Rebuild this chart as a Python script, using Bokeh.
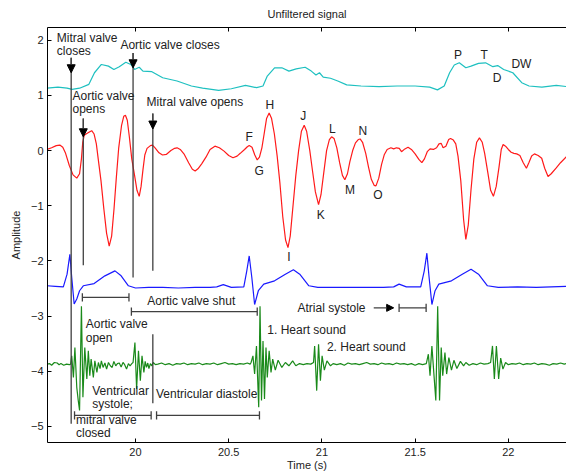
from bokeh.plotting import figure
from bokeh.models import Range1d, LinearAxis, FixedTicker, Arrow, NormalHead
from bokeh.core.properties import value
from bokeh.embed import file_html
from bokeh.resources import INLINE

FONT = "Liberation Sans"

# ---------------- data ----------------
cyan_t = [19.526, 19.584, 19.633, 19.66, 19.70, 19.75, 19.78, 19.817, 19.855, 19.884, 19.913, 19.948,
          19.975, 19.995, 20.02, 20.04, 20.088, 20.146, 20.223, 20.30, 20.36, 20.446, 20.514, 20.59,
          20.65, 20.684, 20.707, 20.746, 20.785, 20.823, 20.862, 20.91, 20.943, 20.968, 20.987, 21.007,
          21.046, 21.085, 21.133, 21.21, 21.307, 21.404, 21.50, 21.578, 21.62, 21.656, 21.685, 21.71,
          21.737, 21.772, 21.80, 21.84, 21.878, 21.917, 21.943, 21.975, 22.024, 22.072, 22.111, 22.18,
          22.257, 22.312]
cyan_v = [1.13, 1.15, 1.13, 1.11, 1.13, 1.20, 1.41, 1.56, 1.53, 1.47, 1.52, 1.60,
          1.56, 1.47, 1.51, 1.44, 1.43, 1.32, 1.26, 1.17, 1.13, 1.09, 1.12, 1.18,
          1.14, 1.17, 1.35, 1.50, 1.50, 1.44, 1.48, 1.51, 1.44, 1.37, 1.41, 1.33,
          1.31, 1.26, 1.19, 1.17, 1.16, 1.17, 1.17, 1.15, 1.10, 1.17, 1.41, 1.55,
          1.59, 1.50, 1.53, 1.58, 1.59, 1.52, 1.54, 1.47, 1.41, 1.23, 1.17, 1.15,
          1.18, 1.16]

red_t = [19.526, 19.55, 19.575, 19.594, 19.61, 19.625, 19.645, 19.665, 19.685, 19.70, 19.71, 19.717,
         19.725, 19.735, 19.75, 19.765, 19.778, 19.79, 19.80, 19.815, 19.83, 19.845, 19.859, 19.872,
         19.885, 19.897, 19.91, 19.925, 19.937, 19.946, 19.956, 19.967, 19.98, 19.995, 20.008, 20.02,
         20.03, 20.04, 20.05, 20.062, 20.08, 20.091, 20.105, 20.126, 20.145, 20.165, 20.19, 20.21,
         20.223, 20.24, 20.262, 20.285, 20.305, 20.32, 20.335, 20.355, 20.378, 20.40, 20.426, 20.45,
         20.475, 20.50, 20.523, 20.545, 20.562, 20.585, 20.60, 20.61, 20.625, 20.64, 20.653, 20.665,
         20.678, 20.69, 20.703, 20.717, 20.73, 20.745, 20.76, 20.775, 20.79, 20.805, 20.818, 20.83,
         20.845, 20.86, 20.875, 20.89, 20.905, 20.918, 20.935, 20.95, 20.965, 20.982, 20.995, 21.01,
         21.025, 21.04, 21.052, 21.065, 21.08, 21.095, 21.11, 21.123, 21.137, 21.15, 21.165, 21.18,
         21.195, 21.205, 21.218, 21.235, 21.25, 21.265, 21.28, 21.29, 21.305, 21.32, 21.335, 21.35,
         21.37, 21.385, 21.40, 21.415, 21.427, 21.445, 21.462, 21.48, 21.50, 21.52, 21.536, 21.55,
         21.565, 21.58, 21.598, 21.615, 21.628, 21.64, 21.65, 21.665, 21.68, 21.69, 21.705, 21.718,
         21.73, 21.745, 21.76, 21.772, 21.785, 21.80, 21.815, 21.83, 21.845, 21.86, 21.873, 21.89,
         21.905, 21.92, 21.935, 21.95, 21.962, 21.972, 21.985, 22.0, 22.015, 22.03, 22.045, 22.062,
         22.08, 22.097, 22.11, 22.125, 22.14, 22.16, 22.179, 22.195, 22.213, 22.23, 22.256, 22.28,
         22.312]
red_v = [0.02, 0.05, 0.09, 0.10, 0.06, -0.05, -0.27, -0.44, -0.50, -0.42, -0.15, 0.15,
         0.28, 0.30, 0.33, 0.36, 0.30, 0.12, -0.15, -0.55, -1.05, -1.50, -1.73, -1.55,
         -1.05, -0.50, 0.05, 0.45, 0.62, 0.64, 0.55, 0.25, -0.15, -0.45, -0.72, -0.83,
         -0.65, -0.35, -0.08, 0.04, 0.09, 0.10, 0.05, -0.04, -0.08, -0.07, 0.00, 0.04,
         0.05, 0.02, -0.07, -0.22, -0.34, -0.37, -0.33, -0.24, -0.12, 0.02, 0.08, 0.05,
         -0.01, -0.09, -0.13, -0.10, -0.05, 0.02, 0.07, 0.09, 0.06, -0.08, -0.17, -0.12,
         0.05, 0.30, 0.58, 0.68, 0.58, 0.30, -0.10, -0.60, -1.20, -1.62, -1.76, -1.55,
         -1.00, -0.45, 0.00, 0.35, 0.46, 0.35, 0.00, -0.38, -0.75, -0.98, -0.80, -0.40,
         0.00, 0.20, 0.25, 0.22, 0.05, -0.22, -0.45, -0.53, -0.42, -0.20, 0.00, 0.14,
         0.20, 0.21, 0.15, -0.05, -0.30, -0.52, -0.63, -0.64, -0.50, -0.25, -0.07, 0.02,
         0.05, 0.03, 0.05, 0.04, -0.02, 0.03, 0.06, 0.02, -0.06, -0.16, -0.22, -0.15,
         -0.02, 0.03, 0.02, 0.05, 0.12, 0.13, 0.05, 0.08, 0.20, 0.22, 0.19, 0.12,
         -0.10, -0.55, -1.25, -1.61, -1.35, -0.70, -0.15, 0.15, 0.23, 0.15, -0.05, -0.40,
         -0.72, -0.83, -0.65, -0.30, 0.02, 0.11, 0.08, 0.02, -0.03, -0.05, -0.06, -0.09,
         -0.22, -0.32, -0.22, -0.10, -0.06, -0.09, -0.14, -0.32, -0.47, -0.42, -0.32, -0.22,
         -0.11]

blue_t = [19.526, 19.57, 19.613, 19.633, 19.648, 19.658, 19.671, 19.685, 19.70, 19.72, 19.778, 19.836,
          19.89, 19.923, 19.962, 20.0, 20.07, 20.146, 20.23, 20.32, 20.40, 20.436, 20.471, 20.514,
          20.581, 20.597, 20.61, 20.624, 20.639, 20.659, 20.688, 20.746, 20.804, 20.847, 20.881, 20.93,
          20.978, 21.1, 21.211, 21.33, 21.385, 21.414, 21.453, 21.53, 21.549, 21.563, 21.575, 21.59,
          21.607, 21.627, 21.695, 21.753, 21.80, 21.84, 21.888, 21.946, 22.05, 22.15, 22.312]
blue_v = [-2.45, -2.46, -2.47, -2.24, -1.88, -2.30, -2.78, -2.69, -2.54, -2.45, -2.41, -2.27,
          -2.18, -2.27, -2.45, -2.49, -2.48, -2.48, -2.49, -2.48, -2.48, -2.47, -2.43, -2.48,
          -2.47, -2.18, -1.91, -2.30, -2.79, -2.54, -2.42, -2.36, -2.24, -2.16, -2.24, -2.45,
          -2.48, -2.48, -2.48, -2.48, -2.47, -2.42, -2.47, -2.47, -2.18, -1.86, -2.30, -2.79,
          -2.54, -2.42, -2.36, -2.24, -2.15, -2.24, -2.45, -2.48, -2.47, -2.48, -2.46]

green_t = [19.526, 19.54, 19.55, 19.565, 19.58, 19.59, 19.60, 19.615, 19.63, 19.645, 19.652, 19.658,
           19.667, 19.675, 19.685, 19.693, 19.700, 19.710, 19.718, 19.728, 19.739, 19.747, 19.755, 19.762,
           19.774, 19.782, 19.793, 19.801, 19.81, 19.817, 19.826, 19.836, 19.845, 19.855, 19.865, 19.875,
           19.884, 19.894, 19.903, 19.913, 19.923, 19.933, 19.942, 19.952, 19.962, 19.971, 19.98, 19.987,
           19.997, 20.006, 20.016, 20.026, 20.035, 20.045, 20.052, 20.059, 20.066, 20.072, 20.08, 20.088,
           20.095, 20.107, 20.12, 20.14, 20.16, 20.18, 20.20, 20.22, 20.24, 20.26, 20.28, 20.30,
           20.32, 20.34, 20.36, 20.38, 20.40, 20.42, 20.44, 20.46, 20.48, 20.50, 20.52, 20.54,
           20.56, 20.58, 20.60, 20.615, 20.62, 20.63, 20.639, 20.649, 20.655, 20.661, 20.668, 20.676,
           20.684, 20.692, 20.70, 20.707, 20.717, 20.727, 20.736, 20.75, 20.765, 20.785, 20.804, 20.823,
           20.843, 20.86, 20.88, 20.90, 20.92, 20.94, 20.955, 20.961, 20.972, 20.982, 20.992, 21.001,
           21.013, 21.027, 21.046, 21.06, 21.08, 21.10, 21.12, 21.14, 21.16, 21.18, 21.20, 21.22,
           21.24, 21.26, 21.28, 21.30, 21.32, 21.34, 21.36, 21.38, 21.40, 21.42, 21.44, 21.46,
           21.48, 21.50, 21.52, 21.54, 21.56, 21.571, 21.58, 21.59, 21.602, 21.611, 21.621, 21.631,
           21.64, 21.648, 21.66, 21.669, 21.681, 21.695, 21.708, 21.724, 21.743, 21.76, 21.772, 21.79,
           21.81, 21.83, 21.85, 21.87, 21.89, 21.905, 21.915, 21.925, 21.936, 21.948, 21.959, 21.971,
           21.985, 22.0, 22.02, 22.04, 22.06, 22.08, 22.10, 22.12, 22.14, 22.16, 22.18, 22.20,
           22.22, 22.24, 22.26, 22.28, 22.30, 22.312]
green_v = [-3.87, -3.86, -3.89, -3.84, -3.85, -3.88, -3.86, -3.89, -3.87, -3.88, -3.87, -3.72,
           -4.11, -3.57, -4.29, -4.53, -4.71, -2.82, -4.47, -3.57, -4.14, -3.63, -4.08, -3.78,
           -4.11, -3.81, -4.02, -3.84, -3.95, -3.81, -3.93, -3.85, -3.96, -3.84, -3.90, -3.93,
           -3.82, -3.90, -3.86, -3.85, -3.92, -3.84, -3.88, -3.96, -3.86, -3.90, -3.86, -3.84,
           -3.48, -4.32, -3.63, -4.17, -3.72, -4.02, -3.82, -3.93, -3.85, -3.95, -3.86, -3.90,
           -3.84, -3.88, -3.87, -3.85, -3.88, -3.86, -3.89, -3.86, -3.87, -3.85, -3.88, -3.86,
           -3.87, -3.85, -3.88, -3.86, -3.87, -3.85, -3.88, -3.86, -3.84, -3.87, -3.86, -3.88,
           -3.86, -3.87, -3.85, -3.87, -3.84, -3.72, -4.05, -3.54, -4.11, -4.65, -2.82, -4.53,
           -3.45, -4.50, -3.57, -4.11, -3.63, -4.02, -3.78, -3.98, -3.80, -3.93, -3.84, -3.90,
           -3.81, -3.90, -3.86, -3.88, -3.86, -3.87, -3.84, -3.54, -4.35, -3.51, -4.17, -3.72,
           -3.98, -3.81, -3.90, -3.86, -3.88, -3.86, -3.89, -3.85, -3.87, -3.86, -3.88, -3.86,
           -3.84, -3.87, -3.86, -3.88, -3.85, -3.87, -3.86, -3.88, -3.85, -3.87, -3.86, -3.88,
           -3.86, -3.89, -3.86, -3.88, -3.86, -3.69, -4.08, -3.54, -4.11, -4.53, -2.82, -4.53,
           -3.57, -4.08, -3.66, -4.05, -3.75, -3.98, -3.80, -3.95, -3.82, -3.90, -3.84, -3.89,
           -3.86, -3.88, -3.85, -3.87, -3.86, -3.84, -3.54, -4.14, -3.54, -4.14, -3.76, -3.96,
           -3.84, -3.88, -3.86, -3.87, -3.85, -3.88, -3.86, -3.87, -3.85, -3.88, -3.86, -3.87,
           -3.89, -3.86, -3.87, -3.85, -3.87, -3.86]

x_ticks = [20, 20.5, 21, 21.5, 22]
y_ticks = [-5, -4, -3, -2, -1, 0, 1, 2]

# annotation geometry (data units)
vline_x = [19.655, 19.72, 19.987, 20.093, 20.093]
vline_y0 = [1.68, 0.58, 1.77, 0.67, -3.33]
vline_y1 = [-4.95, -2.08, -2.30, -2.18, -4.58]
arrow_x = [19.655, 19.72, 19.987, 20.093]
arrow_y0 = [1.68, 0.58, 1.77, 0.67]
arrow_y1 = [1.41, 0.25, 1.50, 0.39]
bar_x0 = [19.715, 19.978, 21.414, 19.673, 20.113]
bar_x1 = [19.965, 20.653, 21.559, 20.084, 20.665]
bar_y = [-2.66, -2.92, -2.85, -4.80, -4.80]

lab_text = ["Mitral valve", "closes", "Aortic valve closes", "Aortic valve", "opens", "Mitral valve opens",
            "Aortic valve shut", "Aortic valve", "open", "1. Heart sound", "2. Heart sound",
            "Ventricular", "systole;", "Ventricular diastole", "mitral valve", "closed"]
lab_x = [19.578, 19.578, 19.919, 19.662, 19.662, 20.059,
         20.063, 19.733, 19.733, 20.707, 21.027,
         19.768, 19.768, 20.11, 19.681, 19.681]
lab_y = [2.04, 1.80, 1.91, 0.99, 0.75, 0.88,
         -2.72, -3.15, -3.39, -3.26, -3.56,
         -4.35, -4.60, -4.41, -4.88, -5.12]

pt_text = ["F", "G", "H", "I", "J", "K", "L", "M", "N", "O", "P", "T", "D", "DW"]
pt_x = [20.61, 20.663, 20.72, 20.823, 20.90, 20.994, 21.056, 21.15, 21.22, 21.30, 21.73, 21.87, 21.94, 22.07]
pt_y = [0.25, -0.365, 0.83, -1.93, 0.63, -1.17, 0.39, -0.72, 0.36, -0.80, 1.74, 1.74, 1.31, 1.56]

# ---------------- figure ----------------
p = figure(width=566, height=473, output_backend="svg", toolbar_location=None,
           x_range=Range1d(19.528, 22.312), y_range=Range1d(-5.29, 2.23),
           min_border_left=47, min_border_right=0, min_border_top=27, min_border_bottom=31)
p.outline_line_color = None
p.xgrid.visible = False
p.ygrid.visible = False
p.background_fill_color = "white"

p.title.text = "Unfiltered signal"
p.title.align = "center"
p.title.vertical_align = "top"
p.title.text_font = FONT
p.title.text_font_size = "11px"
p.title.text_font_style = "normal"
p.title.text_color = "#222222"
p.title.offset = 6
p.title.standoff = 12


def style_axis(ax):
    ax.major_tick_in = 4
    ax.major_tick_out = 0
    ax.minor_tick_line_color = None
    ax.axis_line_color = "black"
    ax.axis_line_width = 1
    ax.major_tick_line_color = "black"
    ax.major_label_text_font = FONT
    ax.major_label_text_font_size = "11px"
    ax.major_label_text_color = "#222222"
    ax.axis_label_text_font = FONT
    ax.axis_label_text_font_size = "11px"
    ax.axis_label_text_font_style = "normal"
    ax.axis_label_text_color = "#222222"


p.xaxis.ticker = FixedTicker(ticks=x_ticks)
p.yaxis.ticker = FixedTicker(ticks=y_ticks)
p.yaxis.major_label_overrides = {t: (("\u2212" + str(abs(t))) if t < 0 else str(t)) for t in y_ticks}
style_axis(p.xaxis[0])
style_axis(p.yaxis[0])
p.yaxis.axis_label = "Amplitude"
p.yaxis.major_label_standoff = 4
p.yaxis.axis_label_standoff = 6
p.xaxis.axis_label = "Time (s)"
p.xaxis.major_label_standoff = 5
p.xaxis.axis_label_standoff = 0

top = LinearAxis(ticker=FixedTicker(ticks=x_ticks))
style_axis(top)
top.major_label_text_font_size = "0px"
top.major_label_text_color = None
top.major_label_standoff = 0
p.add_layout(top, "above")

# traces
p.line(cyan_t, cyan_v, line_color="#1ec0c0", line_width=1.2)
p.line(red_t, red_v, line_color="#ff1a1a", line_width=1.2)
p.line(blue_t, blue_v, line_color="#1a1aff", line_width=1.2)
p.line(green_t, green_v, line_color="#1a8a1a", line_width=1.2)

# annotation lines
ann_color = "#404040"
p.segment(x0=vline_x, y0=vline_y0, x1=vline_x, y1=vline_y1, line_color=ann_color, line_width=1.3)
for x, y0, y1 in zip(arrow_x, arrow_y0, arrow_y1):
    p.add_layout(Arrow(end=NormalHead(size=8, fill_color="black", line_color="black"),
                       x_start=x, y_start=y0, x_end=x, y_end=y1, line_color=ann_color, line_width=1.3))
# atrial systole arrow
p.add_layout(Arrow(end=NormalHead(size=7, fill_color="black", line_color="black"),
                   x_start=21.278, y_start=-2.85, x_end=21.385, y_end=-2.85,
                   line_color=ann_color, line_width=1.3))

# interval bars
p.segment(x0=bar_x0, y0=bar_y, x1=bar_x1, y1=bar_y, line_color=ann_color, line_width=1.3)
tick_h = 0.075
p.segment(x0=bar_x0, y0=[y - tick_h for y in bar_y], x1=bar_x0, y1=[y + tick_h for y in bar_y],
          line_color=ann_color, line_width=1.3)
p.segment(x0=bar_x1, y0=[y - tick_h for y in bar_y], x1=bar_x1, y1=[y + tick_h for y in bar_y],
          line_color=ann_color, line_width=1.3)

# texts
ANN_SIZE = "12px"
p.text(x=lab_x, y=lab_y, text=lab_text, text_font=value(FONT), text_font_size=ANN_SIZE,
       text_align="left", text_baseline="middle", text_color="#222222")
p.text(x=pt_x, y=pt_y, text=pt_text, text_font=value(FONT), text_font_size=ANN_SIZE,
       text_align="center", text_baseline="middle", text_color="#222222")
p.text(x=[21.234], y=[-2.85], text=["Atrial systole"], text_font=value(FONT), text_font_size=ANN_SIZE,
       text_align="right", text_baseline="middle", text_color="#222222")

open("out.html", "w").write(file_html(p, INLINE))
